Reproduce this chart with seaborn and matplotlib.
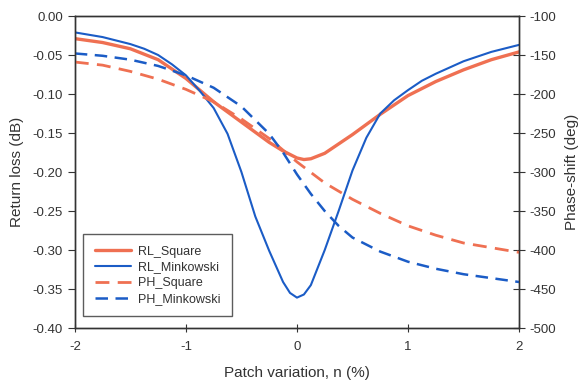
import matplotlib
matplotlib.use("Agg")
import matplotlib.pyplot as plt
import seaborn as sns
import pandas as pd
from matplotlib.lines import Line2D

sns.set_style("ticks")
plt.rcParams['font.family'] = ['Liberation Sans', 'DejaVu Sans']

# ---- data ----
x_rl_mink = [-2, -1.75, -1.5, -1.375, -1.25, -1.125, -1.0, -0.875, -0.75, -0.625, -0.5,
             -0.375, -0.25, -0.125, -0.0625, 0, 0.0625, 0.125, 0.25, 0.375, 0.5, 0.625,
             0.75, 0.875, 1.0, 1.125, 1.25, 1.5, 1.75, 2.0]
rl_mink = [-0.021, -0.027, -0.036, -0.042, -0.050, -0.062, -0.076, -0.096, -0.118, -0.151,
           -0.200, -0.257, -0.301, -0.341, -0.355, -0.361, -0.357, -0.345, -0.300, -0.250,
           -0.198, -0.156, -0.125, -0.108, -0.095, -0.083, -0.074, -0.058, -0.046, -0.037]

x_rl_sq = [-2, -1.75, -1.5, -1.25, -1.0, -0.75, -0.5, -0.25, -0.125, 0, 0.0625, 0.125,
           0.25, 0.375, 0.5, 0.75, 1.0, 1.25, 1.5, 1.75, 2.0]
rl_square = [-0.029, -0.034, -0.042, -0.056, -0.080, -0.110, -0.136, -0.162, -0.173, -0.182,
             -0.184, -0.183, -0.176, -0.164, -0.152, -0.126, -0.102, -0.084, -0.069,
             -0.056, -0.046]

x_ph_sq = [-2, -1.75, -1.5, -1.25, -1.0, -0.75, -0.5, -0.25, 0, 0.25, 0.5, 0.75, 1.0,
           1.25, 1.5, 1.75, 2.0]
ph_square = [-159, -163, -171, -181, -194, -210, -232, -257, -287, -314, -335, -353,
             -369, -381, -391, -397, -403]

x_ph_mink = [-2, -1.75, -1.5, -1.25, -1.0, -0.75, -0.5, -0.25, -0.125, 0, 0.125, 0.25,
             0.375, 0.5, 0.75, 1.0, 1.25, 1.5, 1.75, 2.0]
ph_mink = [-148, -151, -156, -164, -176, -192, -216, -251, -275, -303, -328, -350,
           -369, -384, -402, -415, -424, -431, -436, -441]

x_ticks = [-2, -1, 0, 1, 2]
left_ticks = [0.00, -0.05, -0.10, -0.15, -0.20, -0.25, -0.30, -0.35, -0.40]
right_ticks = [-100, -150, -200, -250, -300, -350, -400, -450, -500]

ORANGE = "#EF7052"
BLUE = "#1B5CC6"
TXT = "#333333"

fig = plt.figure(figsize=(5.8, 3.81), dpi=100)
ax = fig.add_axes([0.129, 0.139, 0.766, 0.819])
ax2 = ax.twinx()

df1 = pd.DataFrame({"x": x_rl_sq, "y": rl_square})
df2 = pd.DataFrame({"x": x_rl_mink, "y": rl_mink})
df3 = pd.DataFrame({"x": x_ph_sq, "y": ph_square})
df4 = pd.DataFrame({"x": x_ph_mink, "y": ph_mink})

dash = (0, (5, 3))
sns.lineplot(data=df1, x="x", y="y", ax=ax, color=ORANGE, lw=2.4, sort=False)
sns.lineplot(data=df2, x="x", y="y", ax=ax, color=BLUE, lw=1.5, sort=False)
sns.lineplot(data=df3, x="x", y="y", ax=ax2, color=ORANGE, lw=2.0, sort=False,
             linestyle=dash)
sns.lineplot(data=df4, x="x", y="y", ax=ax2, color=BLUE, lw=1.8, sort=False,
             linestyle=dash)

ax.set_xlim(-2, 2)
ax.set_ylim(-0.40, 0.0)
ax2.set_ylim(-500, -100)
ax.set_xticks(x_ticks)
ax.set_xticklabels([str(t) for t in x_ticks])
ax.set_yticks(left_ticks)
ax.set_yticklabels([f"{t:.2f}" for t in left_ticks])
ax2.set_yticks(right_ticks)
ax2.set_yticklabels([str(t) for t in right_ticks])

ax.set_xlabel("Patch variation, n (%)", fontsize=11, color=TXT, labelpad=10)
ax.set_ylabel("Return loss (dB)", fontsize=11, color=TXT, labelpad=6)
ax2.set_ylabel("Phase-shift (deg)", fontsize=11, color=TXT, labelpad=6)

for a in (ax, ax2):
    for s in a.spines.values():
        s.set_visible(True)
        s.set_color(TXT)
        s.set_linewidth(1.0)
ax.tick_params(axis="x", direction="inout", length=6, labelsize=9.5, colors=TXT, pad=6)
ax.tick_params(axis="y", direction="out", length=5, labelsize=9.5, colors=TXT)
ax2.tick_params(axis="y", direction="inout", length=8, labelsize=9.5, colors=TXT)

handles = [
    Line2D([], [], color=ORANGE, lw=2.4),
    Line2D([], [], color=BLUE, lw=1.5),
    Line2D([], [], color=ORANGE, lw=2.0, linestyle=dash),
    Line2D([], [], color=BLUE, lw=1.8, linestyle=dash),
]
labels = ["RL_Square", "RL_Minkowski", "PH_Square", "PH_Minkowski"]
leg = ax2.legend(handles, labels, loc="lower left", bbox_to_anchor=(0.005, 0.018),
                 fontsize=9, frameon=True, fancybox=False, edgecolor=TXT,
                 handlelength=2.9, handletextpad=0.6, borderpad=0.9, labelspacing=0.3)
leg.get_frame().set_linewidth(1.0)
for t in leg.get_texts():
    t.set_color(TXT)

fig.savefig("out.png", dpi=100)
